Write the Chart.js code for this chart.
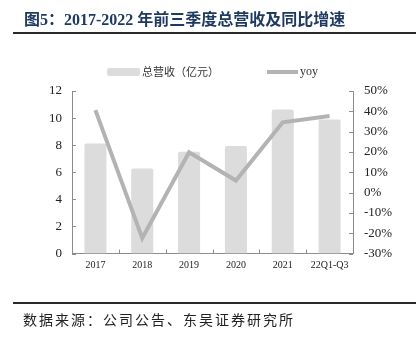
<!DOCTYPE html>
<html>
<head>
<meta charset="utf-8">
<script src="https://cdn.jsdelivr.net/npm/chart.js@4"></script>
<style>
  html, body { margin: 0; padding: 0; background: #fff; }
  #wrap { position: relative; width: 417px; height: 339px; overflow: hidden; }
  #chart { position: absolute; left: 0; top: 0; }
  .title {
    position: absolute; left: 24px; top: 6px; white-space: nowrap;
    font: bold 16px "Liberation Serif", "Noto Sans CJK SC", serif; color: #1f3a60;
  }
  .rule { position: absolute; left: 13px; width: 403px; height: 2px; background: #2a2a2a; }
  .source {
    position: absolute; left: 23px; top: 309px; white-space: nowrap;
    font: 14px "Noto Sans CJK SC", sans-serif; letter-spacing: 2px; color: #222;
  }
</style>
</head>
<body>
<div id="wrap">
  <canvas id="chart" width="417" height="339"></canvas>
  <div class="title">图5：2017-2022 年前三季度总营收及同比增速</div>
  <div class="rule" style="top:32px"></div>
  <div class="rule" style="top:302px"></div>
  <div class="source">数据来源：公司公告、东吴证券研究所</div>
</div>
<script>
// 年份 / 营收（亿元）/ 同比增速（%）
const categories = ['2017', '2018', '2019', '2020', '2021', '22Q1-Q3'];
const revenue = [8.13, 6.27, 7.51, 7.93, 10.64, 9.90];
const yoy = [40.6, -22.5, 19.8, 5.9, 34.6, 37.7];
const revenueLabel = '总营收（亿元）';
const yoyLabel = 'yoy';

const BAR_COLOR = '#dcdcdc';
const LINE_COLOR = '#b3b3b3';
const AXIS_COLOR = '#8c8c8c';
const serif = 'Liberation Serif';

// 刻度线朝内画 + 图例
const extras = {
  id: 'extras',
  afterDraw(chart) {
    const ctx = chart.ctx;
    const x = chart.scales.x, yL = chart.scales.y, yR = chart.scales.y1;
    const area = chart.chartArea;
    ctx.save();
    ctx.strokeStyle = AXIS_COLOR;
    ctx.lineWidth = 1;
    ctx.beginPath();
    yL.ticks.forEach(t => {
      const py = Math.round(yL.getPixelForValue(t.value)) + 0.5;
      ctx.moveTo(area.left, py); ctx.lineTo(area.left + 4, py);
    });
    yR.ticks.forEach(t => {
      const py = Math.round(yR.getPixelForValue(t.value)) + 0.5;
      ctx.moveTo(area.right - 4, py); ctx.lineTo(area.right, py);
    });
    const half = (x.getPixelForValue(1) - x.getPixelForValue(0)) / 2;
    for (let i = 0; i <= categories.length; i++) {
      const px = Math.round(x.getPixelForValue(i) - half) + 0.5;
      ctx.moveTo(px, area.bottom); ctx.lineTo(px, area.bottom - 4);
    }
    ctx.stroke();

    // 图例
    ctx.fillStyle = BAR_COLOR;
    ctx.beginPath();
    ctx.roundRect(107, 68, 33, 8, 2);
    ctx.fill();
    ctx.fillStyle = '#333';
    ctx.textBaseline = 'middle';
    ctx.font = '11px "Noto Sans CJK SC"';
    ctx.fillText(revenueLabel, 142, 72);
    ctx.strokeStyle = LINE_COLOR;
    ctx.lineWidth = 4;
    ctx.beginPath();
    ctx.moveTo(267, 72); ctx.lineTo(298, 72);
    ctx.stroke();
    ctx.font = '12px "' + serif + '"';
    ctx.fillText(yoyLabel, 300, 72);
    ctx.restore();
  }
};

new Chart(document.getElementById('chart'), {
  data: {
    labels: categories,
    datasets: [
      {
        type: 'line', label: yoyLabel, data: yoy, yAxisID: 'y1',
        borderColor: LINE_COLOR, borderWidth: 4, pointRadius: 0, tension: 0, order: 0
      },
      {
        type: 'bar', label: revenueLabel, data: revenue, yAxisID: 'y',
        backgroundColor: BAR_COLOR, borderRadius: 2,
        categoryPercentage: 1, barPercentage: 0.47, order: 1
      }
    ]
  },
  options: {
    responsive: false,
    animation: false,
    layout: { padding: { top: 91, left: 0, right: 0, bottom: 63.5 } },
    plugins: { legend: { display: false }, tooltip: { enabled: false } },
    scales: {
      x: {
        grid: { display: false, drawTicks: false },
        border: { color: AXIS_COLOR, width: 1 },
        ticks: { color: '#222', padding: 6, maxRotation: 0, font: { family: serif, size: 10 } },
        afterFit: s => { s.height = 22; }
      },
      y: {
        position: 'left', min: 0, max: 12,
        grid: { display: false, drawTicks: false },
        border: { color: AXIS_COLOR, width: 1 },
        ticks: { stepSize: 2, color: '#222', padding: 10, font: { family: serif, size: 13 } },
        afterFit: s => { s.width = 72; }
      },
      y1: {
        position: 'right', min: -30, max: 50,
        grid: { display: false, drawTicks: false },
        border: { color: AXIS_COLOR, width: 1 },
        ticks: {
          stepSize: 10, color: '#222', padding: 11, font: { family: serif, size: 13 },
          callback: v => v + '%'
        },
        afterFit: s => { s.width = 64; }
      }
    }
  },
  plugins: [extras]
});
</script>
</body>
</html>
